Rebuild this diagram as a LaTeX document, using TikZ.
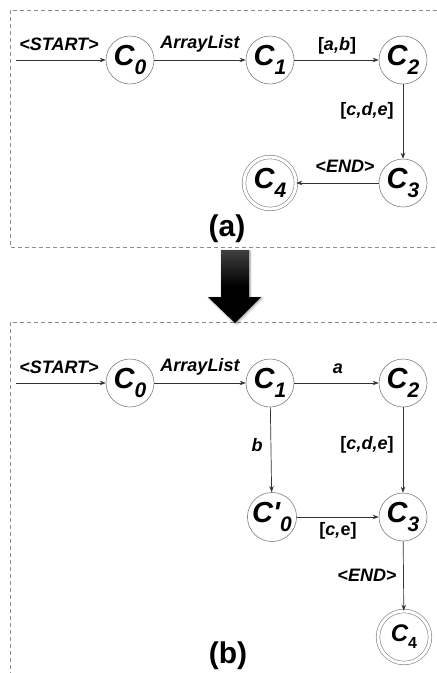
\documentclass[tikz,border=0pt]{standalone}
\usepackage{fontspec}
\setmainfont{Liberation Sans}
\usetikzlibrary{arrows.meta,shadows.blur}
\newcommand{\stname}[2]{\fontsize{29}{29}\selectfont\bfseries\itshape #1\raisebox{-0.3em}{\fontsize{21}{21}\selectfont #2}}
\newcommand{\stsmall}[2]{\fontsize{24}{24}\selectfont\bfseries\itshape #1\raisebox{-0.3em}{\fontsize{16}{16}\selectfont\upshape #2}}
\tikzset{
  state/.style={circle,draw=black!50,line width=0.6pt,minimum size=48pt,inner sep=0pt,fill=white},
  final/.style={state,double=white,double distance=3pt,minimum size=52pt},
  conn/.style={draw=black!80,line width=0.7pt,-{Stealth[length=6pt,width=4.5pt]}},
  lbl/.style={font=\fontsize{18}{18}\selectfont\bfseries\itshape,inner sep=1pt},
  captxt/.style={font=\fontsize{30}{30}\selectfont\bfseries},
  frame/.style={draw=black!45,line width=0.6pt,dash pattern=on 4pt off 3pt},
}
\begin{document}
\begin{tikzpicture}[x=1pt,y=-1pt]
\useasboundingbox (0,0) rectangle (437,673);
% frames
\draw[frame] (437,10) -- (10,10) -- (10,247) -- (437,247);
\draw[frame] (437,322) -- (10,322) -- (10,673);
% big arrow
\path[blur shadow={shadow xshift=1pt,shadow yshift=-1pt,shadow blur steps=6,shadow opacity=40},
      top color=black!75,bottom color=black,middle color=black]
  (221,250) -- (249,250) -- (249,297) -- (261,297) -- (235,323) -- (208,297) -- (221,297) -- cycle;
% (a)
\coordinate (sa) at (16,60);
\node[state] (a0) at (130,60) {\stname{C}{0}};
\node[state] (a1) at (270,60) {\stname{C}{1}};
\node[state] (a2) at (403,60) {\stname{C}{2}};
\node[state] (a3) at (403,183) {\stname{C}{3}};
\node[final] (a4) at (270,183) {\stname{C}{4}};
\draw[conn] (sa) -- (a0);
\draw[conn] (a0) -- (a1);
\draw[conn] (a1) -- (a2);
\draw[conn] (a2) -- (a3);
\draw[conn] (a3) -- (a4);
\node[lbl] (la0) at (59,44) {<START>};
\node[lbl] (la1) at (200,44) {ArrayList};
\node[lbl] (la2) at (337,46) {\upshape[\itshape a,b\upshape]};
\node[lbl] (la3) at (367,111) {\upshape[\itshape c,d,e\upshape]};
\node[lbl] (la4) at (345,166) {<END>};
\node[captxt] (ca) at (227,229) {(a)};
% (b)
\coordinate (sb) at (16,383);
\node[state] (b0) at (130,383) {\stname{C}{0}};
\node[state] (b1) at (270,383) {\stname{C}{1}};
\node[state] (b2) at (403,383) {\stname{C}{2}};
\node[state] (b5) at (272,517) {\stname{C\textquotesingle}{0}};
\node[state] (b3) at (403,517) {\stname{C}{3}};
\node[final] (b4) at (404,637) {\stsmall{C}{4}};
\draw[conn] (sb) -- (b0);
\draw[conn] (b0) -- (b1);
\draw[conn] (b1) -- (b2);
\draw[conn] (b1) -- (b5);
\draw[conn] (b2) -- (b3);
\draw[conn] (b5) -- (b3);
\draw[conn] (b3) -- (b4);
\node[lbl] (lb0) at (59,367) {<START>};
\node[lbl] (lb1) at (200,367) {ArrayList};
\node[lbl] (lb2) at (338,369) {a};
\node[lbl] (lb3) at (257,445) {b};
\node[lbl] (lb4) at (367,445) {\upshape[\itshape c,d,e\upshape]};
\node[lbl] (lb5) at (338,531) {\upshape[\itshape c,\upshape e]};
\node[lbl] (lb6) at (367,575) {<END>};
\node[captxt] (cb) at (228,656) {(b)};
\end{tikzpicture}
\end{document}
